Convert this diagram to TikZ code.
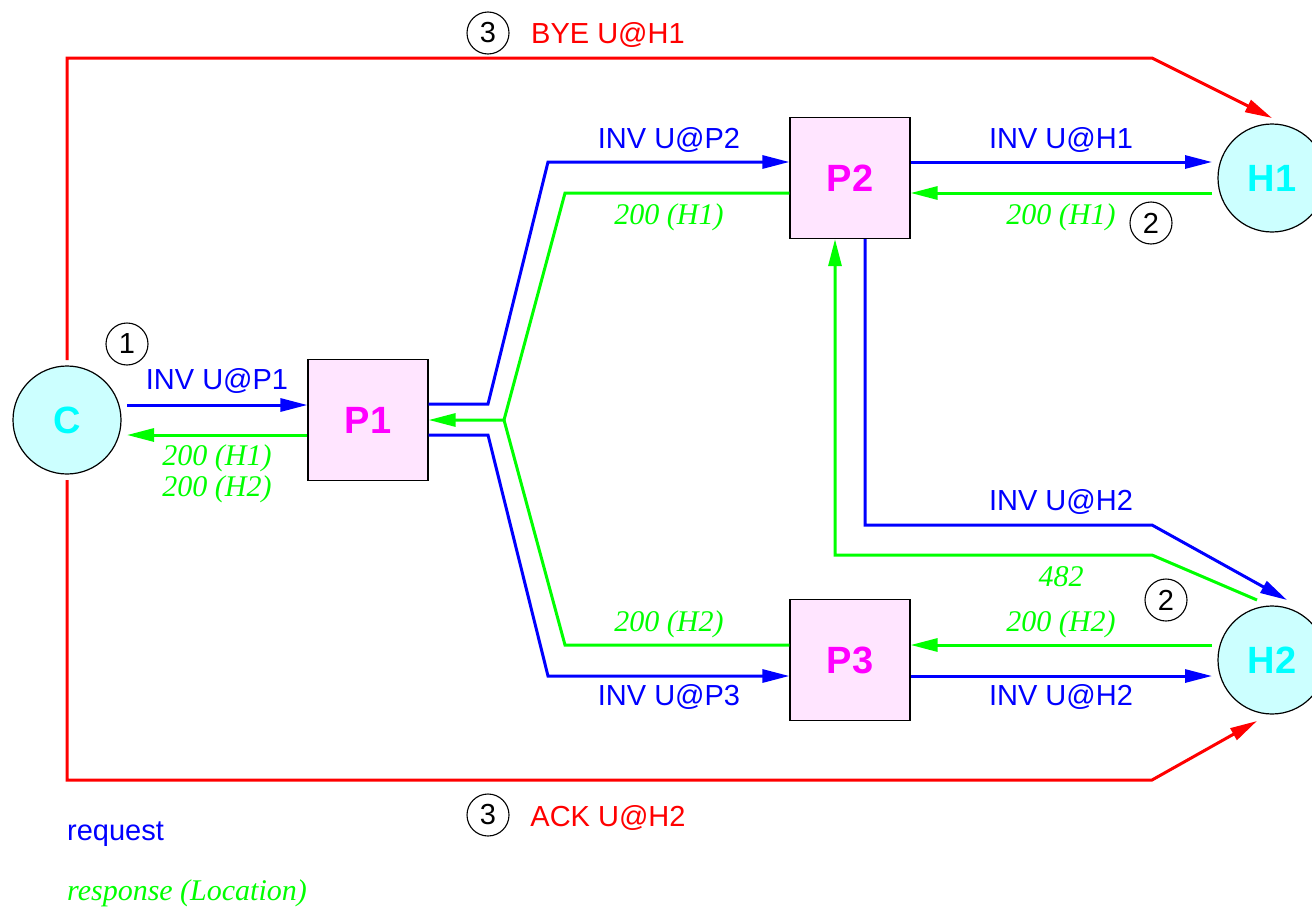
\documentclass[tikz,border=0pt]{standalone}
\usepackage{fontspec}
\setmainfont{Liberation Serif}
\setsansfont{Liberation Sans}
\usetikzlibrary{arrows.meta,calc}
\definecolor{cfill}{RGB}{204,255,255}
\definecolor{bfill}{RGB}{255,229,255}
\definecolor{gr}{RGB}{0,255,0}
\definecolor{bl}{RGB}{0,0,255}
\definecolor{rd}{RGB}{255,0,0}
\definecolor{cy}{RGB}{0,255,255}
\definecolor{mg}{RGB}{255,0,255}
\begin{document}
\begin{tikzpicture}[x=1pt,y=-1pt,
  host/.style={circle,draw=black,line width=1.2pt,fill=cfill,minimum size=108pt,inner sep=0pt,
    font=\sffamily\bfseries\fontsize{38}{40}\selectfont,text=cy},
  proxy/.style={rectangle,draw=black,line width=1.2pt,fill=bfill,minimum width=120pt,minimum height=121pt,inner sep=0pt,
    font=\sffamily\bfseries\fontsize{38}{40}\selectfont,text=mg},
  tip/.style={-{Triangle[length=27pt,width=13pt]}},
  req/.style={bl,line width=3pt,tip},
  resp/.style={gr,line width=3pt,tip},
  respline/.style={gr,line width=3pt},
  bye/.style={rd,line width=3pt,tip},
  rqlab/.style={bl,anchor=base,inner sep=0pt,font=\sffamily\fontsize{29}{31}\selectfont},
  rslab/.style={gr,anchor=base,inner sep=0pt,font=\itshape\fontsize{30}{32}\selectfont},
  redlab/.style={rd,anchor=base,inner sep=0pt,font=\sffamily\fontsize{29}{31}\selectfont},
  num/.style={circle,draw=black,line width=1.1pt,minimum size=42pt,inner sep=0pt,font=\sffamily\fontsize{29}{31}\selectfont}
]
\useasboundingbox (0,0) rectangle (1312,910);
% nodes
\node[host] (C) at (67,420) {C};
\node[proxy] (P1) at (368,420) {P1};
\node[proxy] (P2) at (850,178) {P2};
\node[proxy] (P3) at (850,660) {P3};
\node[host] (H1) at (1272,178) {H1};
\node[host] (H2) at (1272,660) {H2};
\coordinate (m) at (504,420);
% C <-> P1
\draw[req] ($(C.center)+(60,-15)$) -- (P1.west |- 0,405);
\draw[resp] (P1.west |- 0,435) -- ($(C.center)+(60,15)$);
% P1 <-> P2, P3
\draw[req] (P1.east |- 0,404) -- (488,404) -- (548,162) -- (P2.west |- 0,162);
\draw[resp] (P2.west |- 0,193) -- (565,193) -- (m) -- (P1.east |- 0,420);
\draw[respline] (P3.west |- 0,645) -- (565,645) -- (m);
\draw[req] (P1.east |- 0,435) -- (488,435) -- (548,676) -- (P3.west |- 0,676);
% P2 <-> H1
\draw[req] (P2.east |- 0,162) -- ($(H1.center)+(-60,-16)$);
\draw[resp] ($(H1.center)+(-60,15)$) -- (P2.east |- 0,193);
% P3 <-> H2
\draw[req] (P3.east |- 0,676) -- ($(H2.center)+(-60,16)$);
\draw[resp] ($(H2.center)+(-60,-15)$) -- (P3.east |- 0,645);
% P2 <-> H2
\draw[req] ($(P2.south)+(15,0)$) -- (865,525) -- (1152,525) -- ($(H2.center)+(15,-60)$);
\draw[resp] ($(H2.center)+(-15,-60)$) -- (1152,555) -- (835,555) -- ($(P2.south)+(-15,0)$);
% C -> H1, H2
\draw[bye] ($(C.center)+(0,-60)$) -- (67,58) -- (1152,58) -- ($(H1.center)+(0,-60)$);
\draw[bye] ($(C.center)+(0,60)$) -- (67,780) -- (1152,780) -- ($(H2.center)+(-15,61)$);
% labels
\node[rqlab] (l1) at (217,389) {INV U@P1};
\node[rslab] (l2) at (217,465) {200 (H1)};
\node[rslab] (l3) at (217,496) {200 (H2)};
\node[rqlab] (l4) at (669,148) {INV U@P2};
\node[rslab] (l5) at (669,224) {200 (H1)};
\node[rslab] (l6) at (669,631) {200 (H2)};
\node[rqlab] (l7) at (669,705) {INV U@P3};
\node[rqlab] (l8) at (1061,148) {INV U@H1};
\node[rslab] (l9) at (1061,224) {200 (H1)};
\node[rqlab] (l10) at (1061,510) {INV U@H2};
\node[rslab] (l11) at (1061,586) {482};
\node[rslab] (l12) at (1061,631) {200 (H2)};
\node[rqlab] (l13) at (1061,705) {INV U@H2};
\node[redlab] (l14) at (608,43) {BYE U@H1};
\node[redlab] (l15) at (608,826) {ACK U@H2};
% circled numbers
\node[num] (n1) at (127,344) {1};
\node[num] (n2a) at (1151,223) {2};
\node[num] (n2b) at (1166,600) {2};
\node[num] (n3a) at (488,33) {3};
\node[num] (n3b) at (488,815) {3};
% legend
\node[rqlab,anchor=base west] (lg1) at (67,840) {request};
\node[rslab,anchor=base west] (lg2) at (67,900) {response (Location)};
\end{tikzpicture}
\end{document}
